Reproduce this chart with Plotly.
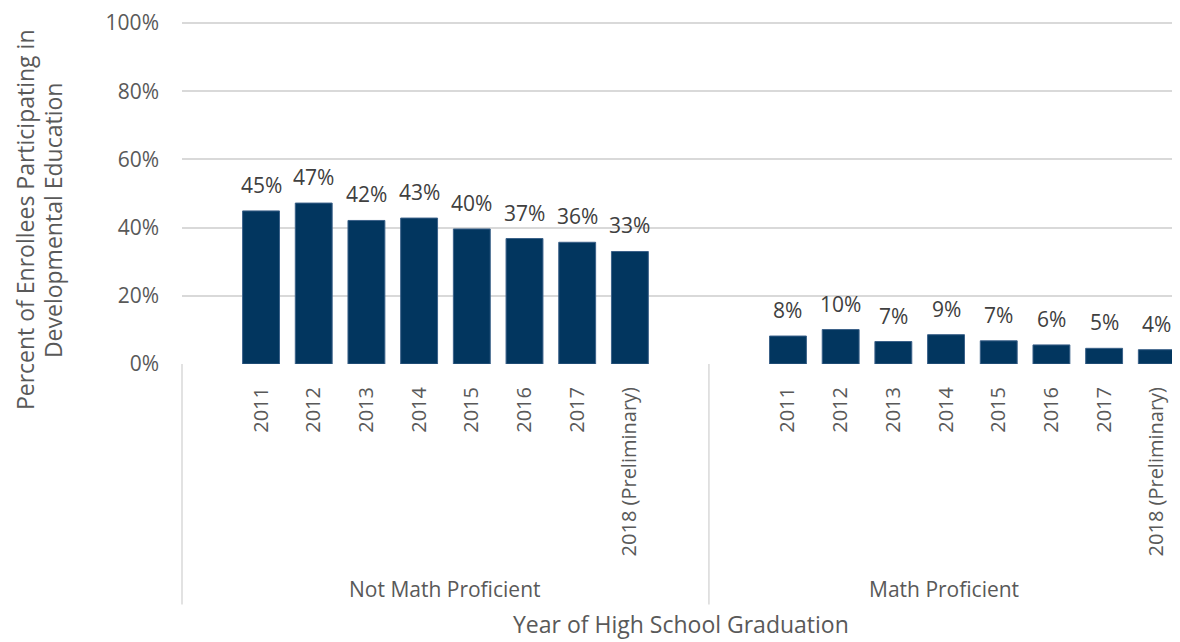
import plotly.graph_objects as go

# ---- data ----
years = ["2011", "2012", "2013", "2014", "2015", "2016", "2017", "2018 (Preliminary)"]
groups = ["Not Math Proficient", "Math Proficient"]
not_proficient = [0.449, 0.472, 0.421, 0.428, 0.396, 0.368, 0.357, 0.330]
proficient = [0.082, 0.101, 0.066, 0.086, 0.068, 0.056, 0.046, 0.042]
y_ticks = [0, 0.2, 0.4, 0.6, 0.8, 1.0]
y_tick_text = ["0%", "20%", "40%", "60%", "80%", "100%"]

# category slots: group 1 = [blank, 8 years, blank], group 2 = [blank, 8 years]
group_slots = [len(years) + 2, len(years) + 1]
x_min = -0.5
x_max = 18.44
y_top = 1.006

BAR = "#02365f"
EDGE = "#3b6189"
TICK = "#595959"
LABEL = "#404040"
GRID = "#d9d9d9"
FONT = "Open Sans"

# page geometry (the page body adds an 8px offset)
OFF = 8
PAGE_W, PAGE_H = 1180, 642
W, H = PAGE_W - OFF, PAGE_H - OFF
B = PAGE_H - 364
plot_h = round((364 - 18) * y_top)
L, R, T = 182 - OFF, 0, H - B - plot_h
plot_w = W - L - R


def page_y_to_paper(py):
    return (H - B - (py - OFF)) / plot_h


def page_x_to_paper(px):
    return (px - OFF - L) / plot_w


def data_to_paper_x(xv):
    return (xv - x_min) / (x_max - x_min)


fig = go.Figure()

xs_all, ys_all, tickvals, ticktext = [], [], [], []
start = 0
for gi, vals in enumerate([not_proficient, proficient]):
    xs = [start + 1 + i for i in range(len(years))]
    xs_all += xs
    ys_all += vals
    tickvals += xs
    ticktext += years
    start += group_slots[gi]

fig.add_trace(go.Bar(
    x=xs_all, y=ys_all, width=0.70,
    marker=dict(color=BAR, line=dict(color=EDGE, width=1)),
    hoverinfo="skip", showlegend=False,
))

for x, y in zip(xs_all, ys_all):
    fig.add_annotation(x=x, y=y, text=f"{round(y * 100):.0f}%", showarrow=False,
                       xanchor="center", yanchor="bottom", yshift=10,
                       font=dict(family=FONT, size=21, color=LABEL))

# divider lines between groups
bounds = [x_min]
acc = x_min
for s in group_slots:
    acc += s
    bounds.append(acc)
for b in bounds[:-1]:
    px = data_to_paper_x(b)
    fig.add_shape(type="line", xref="paper", yref="paper", x0=px, x1=px,
                  y0=0, y1=page_y_to_paper(608), line=dict(color=GRID, width=1.5))

# group labels
for gi, g in enumerate(groups):
    lo = max(bounds[gi], x_min)
    hi = min(bounds[gi + 1], x_max)
    fig.add_annotation(xref="paper", yref="paper",
                       x=data_to_paper_x((lo + hi) / 2), y=page_y_to_paper(592),
                       text=g, showarrow=False, xanchor="center", yanchor="middle",
                       font=dict(family=FONT, size=21, color=TICK))

# axis titles
fig.add_annotation(xref="paper", yref="paper", x=data_to_paper_x((x_min + x_max) / 2),
                   y=page_y_to_paper(628), text="Year of High School Graduation",
                   showarrow=False, xanchor="center", yanchor="middle",
                   font=dict(family=FONT, size=23, color=TICK))
for line, px in [("Percent of Enrollees Participating in", 25),
                 ("Developmental Education", 53)]:
    fig.add_annotation(xref="paper", yref="paper", x=page_x_to_paper(px),
                       y=page_y_to_paper(218), text=line, textangle=-90,
                       showarrow=False, xanchor="center", yanchor="middle",
                       font=dict(family=FONT, size=23, color=TICK))

fig.update_layout(
    width=W, height=H,
    margin=dict(l=L, r=R, t=T, b=B, pad=0),
    paper_bgcolor="white", plot_bgcolor="white",
    xaxis=dict(range=[x_min, x_max], tickmode="array", tickvals=tickvals,
               ticktext=ticktext, tickangle=-90, showgrid=False, zeroline=False,
               showline=False, ticks="", ticklabelstandoff=18,
               tickfont=dict(family=FONT, size=20, color=TICK)),
    yaxis=dict(range=[0, y_top], tickmode="array", tickvals=y_ticks, ticktext=y_tick_text,
               showgrid=True, gridcolor=GRID, gridwidth=1.5, zeroline=False,
               showline=False, ticks="", ticklabelstandoff=22,
               ticklabeloverflow="allow",
               tickfont=dict(family=FONT, size=21, color=TICK)),
)

fig.write_html("out.html")
